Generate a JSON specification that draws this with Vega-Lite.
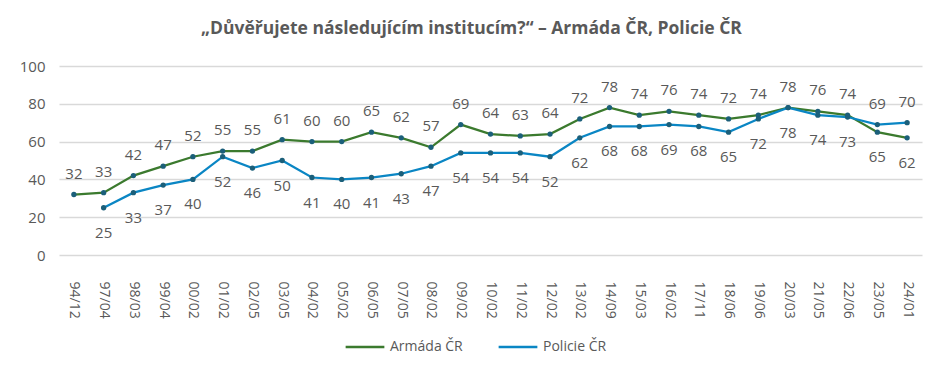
{
  "$schema": "https://vega.github.io/schema/vega-lite/v6.json",
  "width": 863,
  "height": 189,
  "autosize": {"type": "none"},
  "padding": {"left": 59, "top": 66, "right": 24, "bottom": 120},
  "background": "white",
  "title": {
    "text": "„Důvěřujete následujícím institucím?“ – Armáda ČR, Policie ČR",
    "font": "Open Sans",
    "fontSize": 17.5,
    "fontWeight": "bold",
    "color": "#595959",
    "anchor": "middle",
    "dx": -19,
    "offset": 22
  },
  "data": {
    "values": [
      {"d": "94/12", "s": "Armáda ČR", "v": 32},
      {"d": "97/04", "s": "Armáda ČR", "v": 33},
      {"d": "98/03", "s": "Armáda ČR", "v": 42},
      {"d": "99/04", "s": "Armáda ČR", "v": 47},
      {"d": "00/02", "s": "Armáda ČR", "v": 52},
      {"d": "01/02", "s": "Armáda ČR", "v": 55},
      {"d": "02/05", "s": "Armáda ČR", "v": 55},
      {"d": "03/05", "s": "Armáda ČR", "v": 61},
      {"d": "04/02", "s": "Armáda ČR", "v": 60},
      {"d": "05/02", "s": "Armáda ČR", "v": 60},
      {"d": "06/05", "s": "Armáda ČR", "v": 65},
      {"d": "07/05", "s": "Armáda ČR", "v": 62},
      {"d": "08/02", "s": "Armáda ČR", "v": 57},
      {"d": "09/02", "s": "Armáda ČR", "v": 69},
      {"d": "10/02", "s": "Armáda ČR", "v": 64},
      {"d": "11/02", "s": "Armáda ČR", "v": 63},
      {"d": "12/02", "s": "Armáda ČR", "v": 64},
      {"d": "13/02", "s": "Armáda ČR", "v": 72},
      {"d": "14/09", "s": "Armáda ČR", "v": 78},
      {"d": "15/03", "s": "Armáda ČR", "v": 74},
      {"d": "16/02", "s": "Armáda ČR", "v": 76},
      {"d": "17/11", "s": "Armáda ČR", "v": 74},
      {"d": "18/06", "s": "Armáda ČR", "v": 72},
      {"d": "19/06", "s": "Armáda ČR", "v": 74},
      {"d": "20/03", "s": "Armáda ČR", "v": 78},
      {"d": "21/05", "s": "Armáda ČR", "v": 76},
      {"d": "22/06", "s": "Armáda ČR", "v": 74},
      {"d": "23/05", "s": "Armáda ČR", "v": 65},
      {"d": "24/01", "s": "Armáda ČR", "v": 62},
      {"d": "97/04", "s": "Policie ČR", "v": 25},
      {"d": "98/03", "s": "Policie ČR", "v": 33},
      {"d": "99/04", "s": "Policie ČR", "v": 37},
      {"d": "00/02", "s": "Policie ČR", "v": 40},
      {"d": "01/02", "s": "Policie ČR", "v": 52},
      {"d": "02/05", "s": "Policie ČR", "v": 46},
      {"d": "03/05", "s": "Policie ČR", "v": 50},
      {"d": "04/02", "s": "Policie ČR", "v": 41},
      {"d": "05/02", "s": "Policie ČR", "v": 40},
      {"d": "06/05", "s": "Policie ČR", "v": 41},
      {"d": "07/05", "s": "Policie ČR", "v": 43},
      {"d": "08/02", "s": "Policie ČR", "v": 47},
      {"d": "09/02", "s": "Policie ČR", "v": 54},
      {"d": "10/02", "s": "Policie ČR", "v": 54},
      {"d": "11/02", "s": "Policie ČR", "v": 54},
      {"d": "12/02", "s": "Policie ČR", "v": 52},
      {"d": "13/02", "s": "Policie ČR", "v": 62},
      {"d": "14/09", "s": "Policie ČR", "v": 68},
      {"d": "15/03", "s": "Policie ČR", "v": 68},
      {"d": "16/02", "s": "Policie ČR", "v": 69},
      {"d": "17/11", "s": "Policie ČR", "v": 68},
      {"d": "18/06", "s": "Policie ČR", "v": 65},
      {"d": "19/06", "s": "Policie ČR", "v": 72},
      {"d": "20/03", "s": "Policie ČR", "v": 78},
      {"d": "21/05", "s": "Policie ČR", "v": 74},
      {"d": "22/06", "s": "Policie ČR", "v": 73},
      {"d": "23/05", "s": "Policie ČR", "v": 69},
      {"d": "24/01", "s": "Policie ČR", "v": 70}
    ]
  },
  "encoding": {
    "x": {
      "field": "d",
      "type": "ordinal",
      "sort": null,
      "scale": {"type": "point", "padding": 0.5},
      "axis": {
        "title": null,
        "labelAngle": 90,
        "labelAlign": "left",
        "labelBaseline": "middle",
        "labelPadding": 26,
        "labelFont": "Open Sans",
        "labelFontSize": 14,
        "labelColor": "#595959",
        "domain": false,
        "ticks": false,
        "grid": false
      }
    },
    "y": {
      "field": "v",
      "type": "quantitative",
      "scale": {"domain": [0, 100]},
      "axis": {
        "title": null,
        "values": [0, 20, 40, 60, 80, 100],
        "labelFont": "Open Sans",
        "labelFontSize": 15,
        "labelColor": "#595959",
        "labelPadding": 14,
        "domain": false,
        "ticks": false,
        "gridColor": "#d9d9d9",
        "gridWidth": 1.5
      }
    }
  },
  "layer": [
    {
      "mark": {"type": "line", "strokeWidth": 2.25},
      "encoding": {
        "color": {
          "field": "s",
          "type": "nominal",
          "scale": {"domain": ["Armáda ČR", "Policie ČR"], "range": ["#3b7a2e", "#0a86c4"]},
          "legend": {
            "title": null,
            "orient": "none",
            "legendX": 285,
            "legendY": 260,
            "direction": "horizontal",
            "symbolType": "stroke",
            "symbolStrokeWidth": 2.5,
            "symbolSize": 1500,
            "labelFont": "Open Sans",
            "labelFontSize": 14,
            "labelColor": "#595959",
            "labelOffset": 4,
            "columnPadding": 30
          }
        }
      }
    },
    {
      "mark": {"type": "point", "filled": true, "size": 28, "color": "#1b5f7a", "opacity": 1}
    },
    {
      "transform": [
        {"filter": "(datum.s == 'Armáda ČR' && datum.d != '23/05' && datum.d != '24/01') || (datum.s == 'Policie ČR' && (datum.d == '23/05' || datum.d == '24/01'))"}
      ],
      "mark": {"type": "text", "baseline": "alphabetic", "dy": -16, "font": "Open Sans", "fontSize": 15, "color": "#595959"},
      "encoding": {"text": {"field": "v", "type": "quantitative"}}
    },
    {
      "transform": [
        {"filter": "!((datum.s == 'Armáda ČR' && datum.d != '23/05' && datum.d != '24/01') || (datum.s == 'Policie ČR' && (datum.d == '23/05' || datum.d == '24/01')))"}
      ],
      "mark": {"type": "text", "baseline": "alphabetic", "dy": 30, "font": "Open Sans", "fontSize": 15, "color": "#595959"},
      "encoding": {"text": {"field": "v", "type": "quantitative"}}
    }
  ],
  "config": {"view": {"stroke": null}}
}
